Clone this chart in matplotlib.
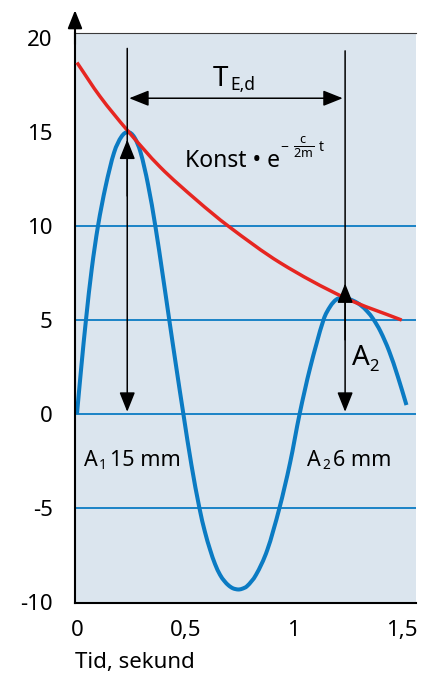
import matplotlib
matplotlib.use('Agg')
import matplotlib.pyplot as plt
from matplotlib.path import Path
from matplotlib.patches import PathPatch

FONT = 'Noto Sans'
plt.rcParams['font.family'] = [FONT, 'DejaVu Sans']
plt.rcParams['mathtext.fontset'] = 'custom'
plt.rcParams['mathtext.rm'] = FONT
plt.rcParams['mathtext.it'] = FONT
plt.rcParams['mathtext.bf'] = FONT

# ---- data ----
time_blue = [0.000, 0.020, 0.0415, 0.068, 0.097, 0.132, 0.171, 0.205, 0.235, 0.265,
             0.294, 0.328, 0.363, 0.395, 0.426, 0.458, 0.491, 0.528, 0.565, 0.590,
             0.614, 0.637, 0.660, 0.680, 0.700, 0.720, 0.743, 0.760, 0.785, 0.826,
             0.878, 0.934, 0.983, 1.027, 1.075, 1.137, 1.168, 1.195, 1.221, 1.250,
             1.280, 1.310, 1.340, 1.367, 1.400, 1.440, 1.480, 1.520]
disp_blue = [0.0, 2.5, 5.0, 7.7, 10.0, 12.1, 13.9, 14.75, 15.0, 14.72,
             13.9, 12.2, 9.9, 7.45, 5.0, 2.5, 0.0, -2.7, -5.0, -6.25,
             -7.21, -7.98, -8.55, -8.88, -9.12, -9.27, -9.33, -9.30, -9.15, -8.55,
             -7.23, -5.0, -2.6, 0.0, 2.43, 5.0, 5.72, 6.08, 6.19, 6.13,
             6.0, 5.78, 5.45, 5.05, 4.4, 3.35, 2.0, 0.48]

time_red = [0.000, 0.106, 0.232, 0.383, 0.552, 0.698, 0.937, 1.233, 1.498]
disp_red = [18.7, 16.9, 15.1, 13.15, 11.38, 10.0, 8.05, 6.2, 5.0]

grid_levels = [-5, 0, 5, 10]
y_ticks = [-10, -5, 0, 5, 10, 15, 20]
y_tick_labels = ['-10', '-5', '0', '5', '10', '15', '20']
x_ticks = [0, 0.5, 1, 1.5]
x_tick_labels = ['0', '0,5', '1', '1,5']

peak_times = [0.232, 1.237]
peak_marks = [14.6, 6.95]
line_tops = [19.45, 19.32]
period_level = 16.8
period_ends = [0.241, 1.226]

# ---- style ----
BG = '#dbe5ee'
BLUE = '#0b7bc3'
RED = '#e62621'


def smooth_curve(xs, ys):
    """Cubic Bezier path passing through every data point."""
    n = len(xs)
    d = []
    for i in range(n):
        if i == 0:
            d.append((ys[1] - ys[0]) / (xs[1] - xs[0]))
        elif i == n - 1:
            d.append((ys[-1] - ys[-2]) / (xs[-1] - xs[-2]))
        else:
            d.append((ys[i + 1] - ys[i - 1]) / (xs[i + 1] - xs[i - 1]))
    verts = [(xs[0], ys[0])]
    codes = [Path.MOVETO]
    for i in range(n - 1):
        h = xs[i + 1] - xs[i]
        verts += [(xs[i] + h / 3, ys[i] + d[i] * h / 3),
                  (xs[i + 1] - h / 3, ys[i + 1] - d[i + 1] * h / 3),
                  (xs[i + 1], ys[i + 1])]
        codes += [Path.CURVE4] * 3
    return Path(verts, codes)


fig = plt.figure(figsize=(4.25, 6.77), dpi=100)
ax = fig.add_axes([75 / 425, 1 - 603 / 677, (416 - 75) / 425, (603 - 33) / 677])
ax.set_facecolor(BG)
ax.set_xlim(-0.009, 1.564)
ax.set_ylim(-10.05, 20.27)

for g in grid_levels:
    ax.axhline(g, color=BLUE, lw=1.3, zorder=1)

ax.add_patch(PathPatch(smooth_curve(time_blue, disp_blue), fill=False, edgecolor=BLUE,
                       lw=2.9, capstyle='butt', joinstyle='round', zorder=2))
ax.add_patch(PathPatch(smooth_curve(time_red, disp_red), fill=False, edgecolor=RED,
                       lw=2.5, capstyle='butt', joinstyle='round', zorder=3))

arrow_kw = dict(arrowstyle='-|>,head_length=0.6,head_width=0.24', color='black', lw=1.1,
                shrinkA=0, shrinkB=0, mutation_scale=20)
for t, mark, top in zip(peak_times, peak_marks, line_tops):
    ax.annotate('', xy=(t, 0.12), xytext=(t, top), arrowprops=arrow_kw, zorder=4)
    ax.annotate('', xy=(t, mark), xytext=(t, mark - 3), arrowprops=arrow_kw, zorder=4)

ax.annotate('', xy=(period_ends[1], period_level), xytext=(period_ends[0], period_level),
            arrowprops=dict(arrowstyle='<|-|>,head_length=0.6,head_width=0.24', color='black',
                            lw=1.1, shrinkA=0, shrinkB=0, mutation_scale=20), zorder=4)

# y axis arrow
ax.annotate('', xy=(0, 1.04), xytext=(0, 0.98), xycoords='axes fraction',
            arrowprops=dict(arrowstyle='-|>,head_length=0.55,head_width=0.22', color='black',
                            lw=1.5, shrinkA=0, shrinkB=0, mutation_scale=20),
            annotation_clip=False)

# spines
ax.spines['right'].set_visible(False)
ax.spines['top'].set_color('#3a3a3a')
ax.spines['top'].set_linewidth(0.8)
ax.spines['left'].set_linewidth(1.5)
ax.spines['bottom'].set_linewidth(1.5)

ax.set_yticks(y_ticks)
ax.set_yticklabels(y_tick_labels)
ax.set_xticks(x_ticks)
ax.set_xticklabels(x_tick_labels)
ax.tick_params(axis='y', length=0, pad=16, labelsize=16)
ax.tick_params(axis='x', length=0, pad=12, labelsize=16)
ax.set_xlabel('Tid, sekund', loc='left', fontsize=16, labelpad=8)

# text annotations
ax.text(0.628, 17.45, 'T', fontsize=20, va='baseline', ha='left')
ax.text(0.706, 17.26, 'E,d', fontsize=12.5, va='baseline', ha='left')

ax.text(0.498, 13.12, 'Konst \u2022 e', fontsize=16.5, va='baseline', ha='left')
ax.text(0.955, 14.07, '\u2212', fontsize=10, va='baseline', ha='center')
ax.text(1.045, 14.2, r'$\frac{c}{2m}$', fontsize=13, va='center', ha='center')
ax.text(1.127, 14.01, 't', fontsize=10, va='baseline', ha='center')

ax.text(1.269, 2.61, 'A', fontsize=20, va='baseline', ha='left')
ax.text(1.347, 2.30, '2', fontsize=12, va='baseline', ha='left')

ax.text(0.032, -2.75, 'A', fontsize=15.5, va='baseline', ha='left')
ax.text(0.1015, -2.94, '1', fontsize=10, va='baseline', ha='left')
ax.text(0.152, -2.75, '15 mm', fontsize=15.5, va='baseline', ha='left')

ax.text(1.061, -2.75, 'A', fontsize=15.5, va='baseline', ha='left')
ax.text(1.131, -2.94, '2', fontsize=10, va='baseline', ha='left')
ax.text(1.181, -2.75, '6 mm', fontsize=15.5, va='baseline', ha='left')

fig.savefig('out.png', dpi=100)
